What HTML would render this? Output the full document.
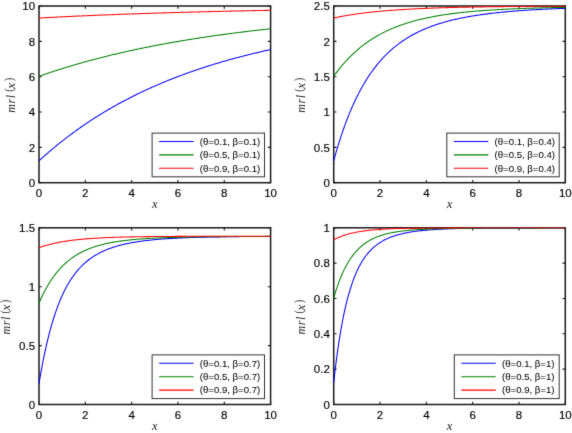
<!DOCTYPE html>
<html><head><meta charset="utf-8"><style>
html,body{margin:0;padding:0;background:#fff;}
body{width:572px;height:433px;overflow:hidden;}
svg{display:block;}
.tk{font-family:"Liberation Sans",sans-serif;font-size:11.5px;fill:#000;stroke:#000;stroke-width:0.15px;}
.lg{font-family:"Liberation Sans",sans-serif;font-size:9.6px;fill:#000;stroke:#000;stroke-width:0.05px;}
.ml{font-family:"Liberation Serif",serif;font-style:italic;font-size:12.0px;fill:#222;}
.mp{font-family:"Liberation Serif",serif;font-size:13.3px;fill:#222;}
.xl{font-family:"Liberation Serif",serif;font-style:italic;font-size:12.5px;fill:#222;}
</style></head><body>
<svg width="572" height="433" viewBox="0 0 572 433">
<defs><filter id="bl" x="0" y="0" width="572" height="433" filterUnits="userSpaceOnUse" color-interpolation-filters="sRGB"><feConvolveMatrix order="3" kernelMatrix="0.01000 0.08000 0.01000 0.08000 0.64000 0.08000 0.01000 0.08000 0.01000" divisor="1" edgeMode="duplicate"/></filter></defs>
<rect width="572" height="433" fill="#fff"/>
<g filter="url(#bl)">
<rect width="572" height="433" fill="#fff"/>
<path d="M39.00 182.70V179.90M39.00 6.00V8.80" stroke="#1a1a1a" stroke-width="1.1"/>
<text x="39.00" y="197.20" class="tk" text-anchor="middle">0</text>
<path d="M85.32 182.70V179.90M85.32 6.00V8.80" stroke="#1a1a1a" stroke-width="1.1"/>
<text x="85.32" y="197.20" class="tk" text-anchor="middle">2</text>
<path d="M131.64 182.70V179.90M131.64 6.00V8.80" stroke="#1a1a1a" stroke-width="1.1"/>
<text x="131.64" y="197.20" class="tk" text-anchor="middle">4</text>
<path d="M177.96 182.70V179.90M177.96 6.00V8.80" stroke="#1a1a1a" stroke-width="1.1"/>
<text x="177.96" y="197.20" class="tk" text-anchor="middle">6</text>
<path d="M224.28 182.70V179.90M224.28 6.00V8.80" stroke="#1a1a1a" stroke-width="1.1"/>
<text x="224.28" y="197.20" class="tk" text-anchor="middle">8</text>
<path d="M270.60 182.70V179.90M270.60 6.00V8.80" stroke="#1a1a1a" stroke-width="1.1"/>
<text x="270.60" y="197.20" class="tk" text-anchor="middle">10</text>
<path d="M39.00 182.70H41.80M270.60 182.70H267.80" stroke="#1a1a1a" stroke-width="1.1"/>
<text x="35.10" y="186.90" class="tk" text-anchor="end">0</text>
<path d="M39.00 147.36H41.80M270.60 147.36H267.80" stroke="#1a1a1a" stroke-width="1.1"/>
<text x="35.10" y="151.56" class="tk" text-anchor="end">2</text>
<path d="M39.00 112.02H41.80M270.60 112.02H267.80" stroke="#1a1a1a" stroke-width="1.1"/>
<text x="35.10" y="116.22" class="tk" text-anchor="end">4</text>
<path d="M39.00 76.68H41.80M270.60 76.68H267.80" stroke="#1a1a1a" stroke-width="1.1"/>
<text x="35.10" y="80.88" class="tk" text-anchor="end">6</text>
<path d="M39.00 41.34H41.80M270.60 41.34H267.80" stroke="#1a1a1a" stroke-width="1.1"/>
<text x="35.10" y="45.54" class="tk" text-anchor="end">8</text>
<path d="M39.00 6.00H41.80M270.60 6.00H267.80" stroke="#1a1a1a" stroke-width="1.1"/>
<text x="35.10" y="10.20" class="tk" text-anchor="end">10</text>
<rect x="39.00" y="6.00" width="231.60" height="176.70" fill="none" stroke="#1a1a1a" stroke-width="1.5"/>
<clipPath id="c0.1"><rect x="38.40" y="5.40" width="232.80" height="177.90"/></clipPath>
<g clip-path="url(#c0.1)">
<polyline points="39.00,160.79 39.97,159.91 40.93,159.03 41.90,158.16 42.86,157.30 43.83,156.44 44.79,155.58 45.76,154.74 46.72,153.89 47.69,153.05 48.65,152.22 49.62,151.39 50.58,150.57 51.55,149.76 52.51,148.94 53.48,148.14 54.44,147.33 55.41,146.54 56.37,145.75 57.34,144.96 58.30,144.18 59.27,143.40 60.23,142.63 61.20,141.86 62.16,141.10 63.12,140.34 64.09,139.59 65.06,138.84 66.02,138.10 66.98,137.36 67.95,136.62 68.92,135.89 69.88,135.17 70.84,134.45 71.81,133.73 72.78,133.02 73.74,132.31 74.71,131.61 75.67,130.91 76.64,130.21 77.60,129.52 78.56,128.84 79.53,128.16 80.50,127.48 81.46,126.80 82.43,126.14 83.39,125.47 84.36,124.81 85.32,124.15 86.28,123.50 87.25,122.85 88.22,122.21 89.18,121.57 90.15,120.93 91.11,120.30 92.08,119.67 93.04,119.04 94.01,118.42 94.97,117.80 95.94,117.19 96.90,116.58 97.87,115.98 98.83,115.37 99.80,114.77 100.76,114.18 101.72,113.59 102.69,113.00 103.66,112.42 104.62,111.84 105.59,111.26 106.55,110.68 107.52,110.11 108.48,109.55 109.45,108.98 110.41,108.43 111.38,107.87 112.34,107.32 113.31,106.77 114.27,106.22 115.24,105.68 116.20,105.14 117.17,104.60 118.13,104.07 119.09,103.54 120.06,103.01 121.03,102.49 121.99,101.97 122.96,101.45 123.92,100.94 124.89,100.43 125.85,99.92 126.82,99.41 127.78,98.91 128.75,98.41 129.71,97.92 130.68,97.43 131.64,96.94 132.61,96.45 133.57,95.97 134.54,95.49 135.50,95.01 136.47,94.53 137.43,94.06 138.39,93.59 139.36,93.12 140.33,92.66 141.29,92.20 142.25,91.74 143.22,91.29 144.19,90.83 145.15,90.38 146.12,89.94 147.08,89.49 148.05,89.05 149.01,88.61 149.98,88.17 150.94,87.74 151.91,87.31 152.87,86.88 153.84,86.45 154.80,86.03 155.76,85.61 156.73,85.19 157.70,84.77 158.66,84.36 159.62,83.94 160.59,83.54 161.56,83.13 162.52,82.73 163.49,82.32 164.45,81.92 165.42,81.53 166.38,81.13 167.34,80.74 168.31,80.35 169.28,79.96 170.24,79.58 171.21,79.19 172.17,78.81 173.14,78.43 174.10,78.06 175.07,77.68 176.03,77.31 177.00,76.94 177.96,76.57 178.93,76.21 179.89,75.84 180.86,75.48 181.82,75.12 182.79,74.77 183.75,74.41 184.72,74.06 185.68,73.71 186.65,73.36 187.61,73.01 188.58,72.67 189.54,72.32 190.51,71.98 191.47,71.64 192.44,71.31 193.40,70.97 194.37,70.64 195.33,70.31 196.30,69.98 197.26,69.65 198.23,69.33 199.19,69.00 200.16,68.68 201.12,68.36 202.09,68.05 203.05,67.73 204.02,67.42 204.98,67.10 205.95,66.79 206.91,66.48 207.88,66.18 208.84,65.87 209.81,65.57 210.77,65.27 211.74,64.97 212.70,64.67 213.67,64.37 214.63,64.08 215.60,63.78 216.56,63.49 217.53,63.20 218.49,62.92 219.46,62.63 220.42,62.34 221.39,62.06 222.35,61.78 223.32,61.50 224.28,61.22 225.25,60.94 226.21,60.67 227.18,60.40 228.14,60.12 229.10,59.85 230.07,59.58 231.04,59.32 232.00,59.05 232.97,58.79 233.93,58.52 234.90,58.26 235.86,58.00 236.83,57.74 237.79,57.49 238.76,57.23 239.72,56.98 240.69,56.72 241.65,56.47 242.62,56.22 243.58,55.98 244.55,55.73 245.51,55.48 246.47,55.24 247.44,55.00 248.41,54.75 249.37,54.51 250.34,54.27 251.30,54.04 252.27,53.80 253.23,53.57 254.20,53.33 255.16,53.10 256.12,52.87 257.09,52.64 258.06,52.41 259.02,52.18 259.99,51.96 260.95,51.73 261.92,51.51 262.88,51.29 263.85,51.07 264.81,50.85 265.78,50.63 266.74,50.41 267.71,50.20 268.67,49.98 269.63,49.77 270.60,49.56" fill="none" stroke="#0000ff" stroke-width="1.05" stroke-linejoin="round"/>
<polyline points="39.00,76.31 39.97,75.97 40.93,75.63 41.90,75.30 42.86,74.96 43.83,74.63 44.79,74.30 45.76,73.97 46.72,73.65 47.69,73.32 48.65,73.00 49.62,72.67 50.58,72.35 51.55,72.03 52.51,71.72 53.48,71.40 54.44,71.09 55.41,70.77 56.37,70.46 57.34,70.15 58.30,69.84 59.27,69.54 60.23,69.23 61.20,68.93 62.16,68.63 63.12,68.33 64.09,68.03 65.06,67.73 66.02,67.43 66.98,67.14 67.95,66.85 68.92,66.56 69.88,66.27 70.84,65.98 71.81,65.69 72.78,65.40 73.74,65.12 74.71,64.84 75.67,64.56 76.64,64.28 77.60,64.00 78.56,63.72 79.53,63.44 80.50,63.17 81.46,62.90 82.43,62.62 83.39,62.35 84.36,62.08 85.32,61.82 86.28,61.55 87.25,61.29 88.22,61.02 89.18,60.76 90.15,60.50 91.11,60.24 92.08,59.98 93.04,59.72 94.01,59.47 94.97,59.21 95.94,58.96 96.90,58.71 97.87,58.46 98.83,58.21 99.80,57.96 100.76,57.71 101.72,57.47 102.69,57.22 103.66,56.98 104.62,56.73 105.59,56.49 106.55,56.25 107.52,56.02 108.48,55.78 109.45,55.54 110.41,55.31 111.38,55.07 112.34,54.84 113.31,54.61 114.27,54.38 115.24,54.15 116.20,53.92 117.17,53.69 118.13,53.47 119.09,53.24 120.06,53.02 121.03,52.80 121.99,52.58 122.96,52.35 123.92,52.14 124.89,51.92 125.85,51.70 126.82,51.48 127.78,51.27 128.75,51.06 129.71,50.84 130.68,50.63 131.64,50.42 132.61,50.21 133.57,50.00 134.54,49.79 135.50,49.59 136.47,49.38 137.43,49.18 138.39,48.97 139.36,48.77 140.33,48.57 141.29,48.37 142.25,48.17 143.22,47.97 144.19,47.78 145.15,47.58 146.12,47.38 147.08,47.19 148.05,47.00 149.01,46.80 149.98,46.61 150.94,46.42 151.91,46.23 152.87,46.04 153.84,45.85 154.80,45.67 155.76,45.48 156.73,45.30 157.70,45.11 158.66,44.93 159.62,44.75 160.59,44.56 161.56,44.38 162.52,44.20 163.49,44.02 164.45,43.85 165.42,43.67 166.38,43.49 167.34,43.32 168.31,43.14 169.28,42.97 170.24,42.80 171.21,42.63 172.17,42.45 173.14,42.28 174.10,42.11 175.07,41.95 176.03,41.78 177.00,41.61 177.96,41.45 178.93,41.28 179.89,41.12 180.86,40.95 181.82,40.79 182.79,40.63 183.75,40.47 184.72,40.31 185.68,40.15 186.65,39.99 187.61,39.83 188.58,39.67 189.54,39.52 190.51,39.36 191.47,39.21 192.44,39.05 193.40,38.90 194.37,38.74 195.33,38.59 196.30,38.44 197.26,38.29 198.23,38.14 199.19,37.99 200.16,37.84 201.12,37.70 202.09,37.55 203.05,37.40 204.02,37.26 204.98,37.11 205.95,36.97 206.91,36.83 207.88,36.68 208.84,36.54 209.81,36.40 210.77,36.26 211.74,36.12 212.70,35.98 213.67,35.84 214.63,35.71 215.60,35.57 216.56,35.43 217.53,35.30 218.49,35.16 219.46,35.03 220.42,34.89 221.39,34.76 222.35,34.63 223.32,34.50 224.28,34.37 225.25,34.24 226.21,34.11 227.18,33.98 228.14,33.85 229.10,33.72 230.07,33.59 231.04,33.47 232.00,33.34 232.97,33.21 233.93,33.09 234.90,32.97 235.86,32.84 236.83,32.72 237.79,32.60 238.76,32.47 239.72,32.35 240.69,32.23 241.65,32.11 242.62,31.99 243.58,31.87 244.55,31.76 245.51,31.64 246.47,31.52 247.44,31.40 248.41,31.29 249.37,31.17 250.34,31.06 251.30,30.94 252.27,30.83 253.23,30.72 254.20,30.60 255.16,30.49 256.12,30.38 257.09,30.27 258.06,30.16 259.02,30.05 259.99,29.94 260.95,29.83 261.92,29.72 262.88,29.62 263.85,29.51 264.81,29.40 265.78,29.29 266.74,29.19 267.71,29.08 268.67,28.98 269.63,28.87 270.60,28.77" fill="none" stroke="#008000" stroke-width="1.05" stroke-linejoin="round"/>
<polyline points="39.00,18.02 39.97,17.97 40.93,17.91 41.90,17.86 42.86,17.81 43.83,17.76 44.79,17.71 45.76,17.66 46.72,17.61 47.69,17.56 48.65,17.51 49.62,17.46 50.58,17.41 51.55,17.36 52.51,17.31 53.48,17.26 54.44,17.21 55.41,17.16 56.37,17.11 57.34,17.06 58.30,17.02 59.27,16.97 60.23,16.92 61.20,16.87 62.16,16.83 63.12,16.78 64.09,16.73 65.06,16.69 66.02,16.64 66.98,16.59 67.95,16.55 68.92,16.50 69.88,16.46 70.84,16.41 71.81,16.37 72.78,16.32 73.74,16.28 74.71,16.23 75.67,16.19 76.64,16.14 77.60,16.10 78.56,16.06 79.53,16.01 80.50,15.97 81.46,15.93 82.43,15.88 83.39,15.84 84.36,15.80 85.32,15.76 86.28,15.71 87.25,15.67 88.22,15.63 89.18,15.59 90.15,15.55 91.11,15.51 92.08,15.47 93.04,15.42 94.01,15.38 94.97,15.34 95.94,15.30 96.90,15.26 97.87,15.22 98.83,15.18 99.80,15.14 100.76,15.10 101.72,15.07 102.69,15.03 103.66,14.99 104.62,14.95 105.59,14.91 106.55,14.87 107.52,14.83 108.48,14.80 109.45,14.76 110.41,14.72 111.38,14.68 112.34,14.65 113.31,14.61 114.27,14.57 115.24,14.53 116.20,14.50 117.17,14.46 118.13,14.43 119.09,14.39 120.06,14.35 121.03,14.32 121.99,14.28 122.96,14.25 123.92,14.21 124.89,14.18 125.85,14.14 126.82,14.11 127.78,14.07 128.75,14.04 129.71,14.00 130.68,13.97 131.64,13.93 132.61,13.90 133.57,13.87 134.54,13.83 135.50,13.80 136.47,13.76 137.43,13.73 138.39,13.70 139.36,13.67 140.33,13.63 141.29,13.60 142.25,13.57 143.22,13.53 144.19,13.50 145.15,13.47 146.12,13.44 147.08,13.41 148.05,13.37 149.01,13.34 149.98,13.31 150.94,13.28 151.91,13.25 152.87,13.22 153.84,13.19 154.80,13.16 155.76,13.13 156.73,13.10 157.70,13.07 158.66,13.04 159.62,13.01 160.59,12.98 161.56,12.95 162.52,12.92 163.49,12.89 164.45,12.86 165.42,12.83 166.38,12.80 167.34,12.77 168.31,12.74 169.28,12.71 170.24,12.68 171.21,12.65 172.17,12.63 173.14,12.60 174.10,12.57 175.07,12.54 176.03,12.51 177.00,12.49 177.96,12.46 178.93,12.43 179.89,12.40 180.86,12.38 181.82,12.35 182.79,12.32 183.75,12.30 184.72,12.27 185.68,12.24 186.65,12.22 187.61,12.19 188.58,12.16 189.54,12.14 190.51,12.11 191.47,12.08 192.44,12.06 193.40,12.03 194.37,12.01 195.33,11.98 196.30,11.96 197.26,11.93 198.23,11.91 199.19,11.88 200.16,11.86 201.12,11.83 202.09,11.81 203.05,11.78 204.02,11.76 204.98,11.73 205.95,11.71 206.91,11.68 207.88,11.66 208.84,11.64 209.81,11.61 210.77,11.59 211.74,11.56 212.70,11.54 213.67,11.52 214.63,11.49 215.60,11.47 216.56,11.45 217.53,11.42 218.49,11.40 219.46,11.38 220.42,11.35 221.39,11.33 222.35,11.31 223.32,11.29 224.28,11.26 225.25,11.24 226.21,11.22 227.18,11.20 228.14,11.18 229.10,11.15 230.07,11.13 231.04,11.11 232.00,11.09 232.97,11.07 233.93,11.05 234.90,11.02 235.86,11.00 236.83,10.98 237.79,10.96 238.76,10.94 239.72,10.92 240.69,10.90 241.65,10.88 242.62,10.86 243.58,10.84 244.55,10.82 245.51,10.79 246.47,10.77 247.44,10.75 248.41,10.73 249.37,10.71 250.34,10.69 251.30,10.67 252.27,10.65 253.23,10.63 254.20,10.62 255.16,10.60 256.12,10.58 257.09,10.56 258.06,10.54 259.02,10.52 259.99,10.50 260.95,10.48 261.92,10.46 262.88,10.44 263.85,10.42 264.81,10.40 265.78,10.39 266.74,10.37 267.71,10.35 268.67,10.33 269.63,10.31 270.60,10.29" fill="none" stroke="#ff0000" stroke-width="1.05" stroke-linejoin="round"/>
</g>
<text x="154.80" y="208.20" class="xl" text-anchor="middle">x</text>
<g transform="translate(14.60,94.95) rotate(-90)"><text class="ml"><tspan x="-17.75">m</tspan><tspan x="-8.55">r</tspan><tspan x="-3.25">l</tspan><tspan x="6.3" style="font-size:13.2px">x</tspan></text><text class="mp" transform="translate(3.15,-1.3) scale(0.72,1)">(</text><text class="mp" transform="translate(13.85,-1.3) scale(0.72,1)">)</text></g>
<rect x="152.10" y="133.10" width="112.40" height="43.70" fill="#fff" stroke="#333" stroke-width="1.0"/>
<line x1="159.10" y1="141.40" x2="193.60" y2="141.40" stroke="#0000ff" stroke-width="1.05"/>
<text x="199.80" y="144.70" class="lg">(θ=0.1, β=0.1)</text>
<line x1="159.10" y1="154.85" x2="193.60" y2="154.85" stroke="#008000" stroke-width="1.05"/>
<text x="199.80" y="158.15" class="lg">(θ=0.5, β=0.1)</text>
<line x1="159.10" y1="168.30" x2="193.60" y2="168.30" stroke="#ff0000" stroke-width="1.05"/>
<text x="199.80" y="171.60" class="lg">(θ=0.9, β=0.1)</text>
<path d="M333.70 182.70V179.90M333.70 6.00V8.80" stroke="#1a1a1a" stroke-width="1.1"/>
<text x="333.70" y="197.20" class="tk" text-anchor="middle">0</text>
<path d="M380.02 182.70V179.90M380.02 6.00V8.80" stroke="#1a1a1a" stroke-width="1.1"/>
<text x="380.02" y="197.20" class="tk" text-anchor="middle">2</text>
<path d="M426.34 182.70V179.90M426.34 6.00V8.80" stroke="#1a1a1a" stroke-width="1.1"/>
<text x="426.34" y="197.20" class="tk" text-anchor="middle">4</text>
<path d="M472.66 182.70V179.90M472.66 6.00V8.80" stroke="#1a1a1a" stroke-width="1.1"/>
<text x="472.66" y="197.20" class="tk" text-anchor="middle">6</text>
<path d="M518.98 182.70V179.90M518.98 6.00V8.80" stroke="#1a1a1a" stroke-width="1.1"/>
<text x="518.98" y="197.20" class="tk" text-anchor="middle">8</text>
<path d="M565.30 182.70V179.90M565.30 6.00V8.80" stroke="#1a1a1a" stroke-width="1.1"/>
<text x="565.30" y="197.20" class="tk" text-anchor="middle">10</text>
<path d="M333.70 182.70H336.50M565.30 182.70H562.50" stroke="#1a1a1a" stroke-width="1.1"/>
<text x="329.80" y="186.90" class="tk" text-anchor="end">0</text>
<path d="M333.70 147.36H336.50M565.30 147.36H562.50" stroke="#1a1a1a" stroke-width="1.1"/>
<text x="329.80" y="151.56" class="tk" text-anchor="end">0.5</text>
<path d="M333.70 112.02H336.50M565.30 112.02H562.50" stroke="#1a1a1a" stroke-width="1.1"/>
<text x="329.80" y="116.22" class="tk" text-anchor="end">1</text>
<path d="M333.70 76.68H336.50M565.30 76.68H562.50" stroke="#1a1a1a" stroke-width="1.1"/>
<text x="329.80" y="80.88" class="tk" text-anchor="end">1.5</text>
<path d="M333.70 41.34H336.50M565.30 41.34H562.50" stroke="#1a1a1a" stroke-width="1.1"/>
<text x="329.80" y="45.54" class="tk" text-anchor="end">2</text>
<path d="M333.70 6.00H336.50M565.30 6.00H562.50" stroke="#1a1a1a" stroke-width="1.1"/>
<text x="329.80" y="10.20" class="tk" text-anchor="end">2.5</text>
<rect x="333.70" y="6.00" width="231.60" height="176.70" fill="none" stroke="#1a1a1a" stroke-width="1.5"/>
<clipPath id="c0.4"><rect x="333.10" y="5.40" width="232.80" height="177.90"/></clipPath>
<g clip-path="url(#c0.4)">
<polyline points="333.70,160.79 334.66,157.30 335.63,153.89 336.59,150.57 337.56,147.33 338.52,144.18 339.49,141.10 340.45,138.10 341.42,135.17 342.38,132.31 343.35,129.52 344.31,126.80 345.28,124.15 346.25,121.57 347.21,119.04 348.18,116.58 349.14,114.18 350.10,111.84 351.07,109.55 352.03,107.32 353.00,105.14 353.96,103.01 354.93,100.94 355.89,98.91 356.86,96.94 357.82,95.01 358.79,93.12 359.75,91.29 360.72,89.49 361.69,87.74 362.65,86.03 363.62,84.36 364.58,82.73 365.54,81.13 366.51,79.58 367.47,78.06 368.44,76.57 369.40,75.12 370.37,73.71 371.33,72.32 372.30,70.97 373.26,69.65 374.23,68.36 375.19,67.10 376.16,65.87 377.12,64.67 378.09,63.49 379.05,62.34 380.02,61.22 380.98,60.12 381.95,59.05 382.91,58.00 383.88,56.98 384.84,55.98 385.81,55.00 386.77,54.04 387.74,53.10 388.70,52.18 389.67,51.29 390.63,50.41 391.60,49.56 392.56,48.72 393.53,47.90 394.50,47.10 395.46,46.31 396.42,45.55 397.39,44.80 398.35,44.06 399.32,43.34 400.28,42.64 401.25,41.95 402.21,41.28 403.18,40.62 404.14,39.98 405.11,39.34 406.07,38.73 407.04,38.12 408.00,37.53 408.97,36.95 409.93,36.38 410.90,35.83 411.87,35.28 412.83,34.75 413.79,34.23 414.76,33.72 415.72,33.22 416.69,32.73 417.65,32.25 418.62,31.78 419.58,31.32 420.55,30.86 421.51,30.42 422.48,29.99 423.44,29.56 424.41,29.15 425.38,28.74 426.34,28.34 427.30,27.95 428.27,27.57 429.23,27.19 430.20,26.82 431.16,26.46 432.13,26.11 433.09,25.76 434.06,25.42 435.02,25.08 435.99,24.76 436.95,24.43 437.92,24.12 438.88,23.81 439.85,23.51 440.81,23.21 441.78,22.92 442.74,22.63 443.71,22.35 444.67,22.08 445.64,21.81 446.60,21.54 447.57,21.28 448.53,21.03 449.50,20.78 450.46,20.53 451.43,20.29 452.39,20.05 453.36,19.82 454.32,19.59 455.29,19.37 456.25,19.15 457.22,18.94 458.18,18.72 459.15,18.52 460.11,18.31 461.08,18.11 462.04,17.92 463.01,17.72 463.97,17.53 464.94,17.35 465.90,17.17 466.87,16.99 467.83,16.81 468.80,16.64 469.76,16.47 470.73,16.30 471.69,16.13 472.66,15.97 473.62,15.81 474.59,15.66 475.55,15.51 476.52,15.36 477.48,15.21 478.45,15.06 479.41,14.92 480.38,14.78 481.34,14.64 482.31,14.51 483.27,14.37 484.24,14.24 485.20,14.12 486.17,13.99 487.13,13.86 488.10,13.74 489.06,13.62 490.03,13.50 490.99,13.39 491.96,13.27 492.92,13.16 493.89,13.05 494.85,12.94 495.82,12.84 496.78,12.73 497.75,12.63 498.71,12.53 499.68,12.43 500.64,12.33 501.61,12.23 502.57,12.14 503.54,12.05 504.50,11.95 505.47,11.86 506.43,11.78 507.40,11.69 508.36,11.60 509.33,11.52 510.29,11.43 511.26,11.35 512.22,11.27 513.19,11.19 514.15,11.12 515.12,11.04 516.08,10.96 517.05,10.89 518.01,10.82 518.98,10.74 519.94,10.67 520.91,10.60 521.88,10.54 522.84,10.47 523.80,10.40 524.77,10.34 525.73,10.27 526.70,10.21 527.66,10.15 528.63,10.08 529.59,10.02 530.56,9.97 531.52,9.91 532.49,9.85 533.45,9.79 534.42,9.74 535.38,9.68 536.35,9.63 537.31,9.57 538.28,9.52 539.24,9.47 540.21,9.42 541.17,9.37 542.14,9.32 543.10,9.27 544.07,9.22 545.03,9.18 546.00,9.13 546.96,9.09 547.93,9.04 548.89,9.00 549.86,8.95 550.82,8.91 551.79,8.87 552.75,8.83 553.72,8.79 554.68,8.74 555.65,8.70 556.62,8.67 557.58,8.63 558.54,8.59 559.51,8.55 560.47,8.52 561.44,8.48 562.40,8.44 563.37,8.41 564.33,8.37 565.30,8.34" fill="none" stroke="#0000ff" stroke-width="1.05" stroke-linejoin="round"/>
<polyline points="333.70,76.31 334.66,74.96 335.63,73.65 336.59,72.35 337.56,71.09 338.52,69.84 339.49,68.63 340.45,67.43 341.42,66.27 342.38,65.12 343.35,64.00 344.31,62.90 345.28,61.82 346.25,60.76 347.21,59.72 348.18,58.71 349.14,57.71 350.10,56.73 351.07,55.78 352.03,54.84 353.00,53.92 353.96,53.02 354.93,52.14 355.89,51.27 356.86,50.42 357.82,49.59 358.79,48.77 359.75,47.97 360.72,47.19 361.69,46.42 362.65,45.67 363.62,44.93 364.58,44.20 365.54,43.49 366.51,42.80 367.47,42.11 368.44,41.45 369.40,40.79 370.37,40.15 371.33,39.52 372.30,38.90 373.26,38.29 374.23,37.70 375.19,37.11 376.16,36.54 377.12,35.98 378.09,35.43 379.05,34.89 380.02,34.37 380.98,33.85 381.95,33.34 382.91,32.84 383.88,32.35 384.84,31.87 385.81,31.40 386.77,30.94 387.74,30.49 388.70,30.05 389.67,29.62 390.63,29.19 391.60,28.77 392.56,28.36 393.53,27.96 394.50,27.57 395.46,27.18 396.42,26.80 397.39,26.43 398.35,26.06 399.32,25.70 400.28,25.35 401.25,25.01 402.21,24.67 403.18,24.34 404.14,24.02 405.11,23.70 406.07,23.38 407.04,23.08 408.00,22.78 408.97,22.48 409.93,22.19 410.90,21.91 411.87,21.63 412.83,21.36 413.79,21.09 414.76,20.82 415.72,20.57 416.69,20.31 417.65,20.06 418.62,19.82 419.58,19.58 420.55,19.35 421.51,19.12 422.48,18.89 423.44,18.67 424.41,18.45 425.38,18.24 426.34,18.03 427.30,17.82 428.27,17.62 429.23,17.42 430.20,17.23 431.16,17.04 432.13,16.85 433.09,16.67 434.06,16.48 435.02,16.31 435.99,16.13 436.95,15.96 437.92,15.80 438.88,15.63 439.85,15.47 440.81,15.31 441.78,15.16 442.74,15.00 443.71,14.85 444.67,14.71 445.64,14.56 446.60,14.42 447.57,14.28 448.53,14.14 449.50,14.01 450.46,13.88 451.43,13.75 452.39,13.62 453.36,13.50 454.32,13.38 455.29,13.26 456.25,13.14 457.22,13.02 458.18,12.91 459.15,12.80 460.11,12.69 461.08,12.58 462.04,12.47 463.01,12.37 463.97,12.27 464.94,12.17 465.90,12.07 466.87,11.97 467.83,11.88 468.80,11.78 469.76,11.69 470.73,11.60 471.69,11.51 472.66,11.43 473.62,11.34 474.59,11.26 475.55,11.17 476.52,11.09 477.48,11.01 478.45,10.94 479.41,10.86 480.38,10.78 481.34,10.71 482.31,10.64 483.27,10.56 484.24,10.49 485.20,10.42 486.17,10.36 487.13,10.29 488.10,10.22 489.06,10.16 490.03,10.10 490.99,10.03 491.96,9.97 492.92,9.91 493.89,9.85 494.85,9.80 495.82,9.74 496.78,9.68 497.75,9.63 498.71,9.57 499.68,9.52 500.64,9.47 501.61,9.42 502.57,9.36 503.54,9.31 504.50,9.27 505.47,9.22 506.43,9.17 507.40,9.12 508.36,9.08 509.33,9.03 510.29,8.99 511.26,8.94 512.22,8.90 513.19,8.86 514.15,8.82 515.12,8.78 516.08,8.74 517.05,8.70 518.01,8.66 518.98,8.62 519.94,8.58 520.91,8.55 521.88,8.51 522.84,8.47 523.80,8.44 524.77,8.40 525.73,8.37 526.70,8.34 527.66,8.30 528.63,8.27 529.59,8.24 530.56,8.21 531.52,8.18 532.49,8.15 533.45,8.12 534.42,8.09 535.38,8.06 536.35,8.03 537.31,8.00 538.28,7.97 539.24,7.95 540.21,7.92 541.17,7.89 542.14,7.87 543.10,7.84 544.07,7.82 545.03,7.79 546.00,7.77 546.96,7.74 547.93,7.72 548.89,7.70 549.86,7.67 550.82,7.65 551.79,7.63 552.75,7.61 553.72,7.59 554.68,7.57 555.65,7.54 556.62,7.52 557.58,7.50 558.54,7.48 559.51,7.46 560.47,7.45 561.44,7.43 562.40,7.41 563.37,7.39 564.33,7.37 565.30,7.35" fill="none" stroke="#008000" stroke-width="1.05" stroke-linejoin="round"/>
<polyline points="333.70,18.02 334.66,17.81 335.63,17.61 336.59,17.41 337.56,17.21 338.52,17.02 339.49,16.83 340.45,16.64 341.42,16.46 342.38,16.28 343.35,16.10 344.31,15.93 345.28,15.76 346.25,15.59 347.21,15.42 348.18,15.26 349.14,15.10 350.10,14.95 351.07,14.80 352.03,14.65 353.00,14.50 353.96,14.35 354.93,14.21 355.89,14.07 356.86,13.93 357.82,13.80 358.79,13.67 359.75,13.53 360.72,13.41 361.69,13.28 362.65,13.16 363.62,13.04 364.58,12.92 365.54,12.80 366.51,12.68 367.47,12.57 368.44,12.46 369.40,12.35 370.37,12.24 371.33,12.14 372.30,12.03 373.26,11.93 374.23,11.83 375.19,11.73 376.16,11.64 377.12,11.54 378.09,11.45 379.05,11.35 380.02,11.26 380.98,11.18 381.95,11.09 382.91,11.00 383.88,10.92 384.84,10.84 385.81,10.75 386.77,10.67 387.74,10.60 388.70,10.52 389.67,10.44 390.63,10.37 391.60,10.29 392.56,10.22 393.53,10.15 394.50,10.08 395.46,10.01 396.42,9.95 397.39,9.88 398.35,9.81 399.32,9.75 400.28,9.69 401.25,9.63 402.21,9.57 403.18,9.51 404.14,9.45 405.11,9.39 406.07,9.33 407.04,9.28 408.00,9.22 408.97,9.17 409.93,9.11 410.90,9.06 411.87,9.01 412.83,8.96 413.79,8.91 414.76,8.86 415.72,8.82 416.69,8.77 417.65,8.72 418.62,8.68 419.58,8.63 420.55,8.59 421.51,8.54 422.48,8.50 423.44,8.46 424.41,8.42 425.38,8.38 426.34,8.34 427.30,8.30 428.27,8.26 429.23,8.22 430.20,8.19 431.16,8.15 432.13,8.12 433.09,8.08 434.06,8.05 435.02,8.01 435.99,7.98 436.95,7.94 437.92,7.91 438.88,7.88 439.85,7.85 440.81,7.82 441.78,7.79 442.74,7.76 443.71,7.73 444.67,7.70 445.64,7.67 446.60,7.64 447.57,7.62 448.53,7.59 449.50,7.56 450.46,7.54 451.43,7.51 452.39,7.49 453.36,7.46 454.32,7.44 455.29,7.41 456.25,7.39 457.22,7.37 458.18,7.34 459.15,7.32 460.11,7.30 461.08,7.28 462.04,7.26 463.01,7.24 463.97,7.22 464.94,7.20 465.90,7.18 466.87,7.16 467.83,7.14 468.80,7.12 469.76,7.10 470.73,7.08 471.69,7.06 472.66,7.05 473.62,7.03 474.59,7.01 475.55,6.99 476.52,6.98 477.48,6.96 478.45,6.95 479.41,6.93 480.38,6.92 481.34,6.90 482.31,6.88 483.27,6.87 484.24,6.86 485.20,6.84 486.17,6.83 487.13,6.81 488.10,6.80 489.06,6.79 490.03,6.77 490.99,6.76 491.96,6.75 492.92,6.74 493.89,6.72 494.85,6.71 495.82,6.70 496.78,6.69 497.75,6.68 498.71,6.67 499.68,6.66 500.64,6.64 501.61,6.63 502.57,6.62 503.54,6.61 504.50,6.60 505.47,6.59 506.43,6.58 507.40,6.57 508.36,6.56 509.33,6.55 510.29,6.55 511.26,6.54 512.22,6.53 513.19,6.52 514.15,6.51 515.12,6.50 516.08,6.49 517.05,6.48 518.01,6.48 518.98,6.47 519.94,6.46 520.91,6.45 521.88,6.45 522.84,6.44 523.80,6.43 524.77,6.42 525.73,6.42 526.70,6.41 527.66,6.40 528.63,6.40 529.59,6.39 530.56,6.38 531.52,6.38 532.49,6.37 533.45,6.37 534.42,6.36 535.38,6.35 536.35,6.35 537.31,6.34 538.28,6.34 539.24,6.33 540.21,6.32 541.17,6.32 542.14,6.31 543.10,6.31 544.07,6.30 545.03,6.30 546.00,6.29 546.96,6.29 547.93,6.28 548.89,6.28 549.86,6.27 550.82,6.27 551.79,6.27 552.75,6.26 553.72,6.26 554.68,6.25 555.65,6.25 556.62,6.24 557.58,6.24 558.54,6.24 559.51,6.23 560.47,6.23 561.44,6.23 562.40,6.22 563.37,6.22 564.33,6.21 565.30,6.21" fill="none" stroke="#ff0000" stroke-width="1.05" stroke-linejoin="round"/>
</g>
<text x="449.50" y="208.20" class="xl" text-anchor="middle">x</text>
<g transform="translate(304.50,94.95) rotate(-90)"><text class="ml"><tspan x="-17.75">m</tspan><tspan x="-8.55">r</tspan><tspan x="-3.25">l</tspan><tspan x="6.3" style="font-size:13.2px">x</tspan></text><text class="mp" transform="translate(3.15,-1.3) scale(0.72,1)">(</text><text class="mp" transform="translate(13.85,-1.3) scale(0.72,1)">)</text></g>
<rect x="446.80" y="133.10" width="112.40" height="43.70" fill="#fff" stroke="#333" stroke-width="1.0"/>
<line x1="453.80" y1="141.40" x2="488.30" y2="141.40" stroke="#0000ff" stroke-width="1.05"/>
<text x="494.50" y="144.70" class="lg">(θ=0.1, β=0.4)</text>
<line x1="453.80" y1="154.85" x2="488.30" y2="154.85" stroke="#008000" stroke-width="1.05"/>
<text x="494.50" y="158.15" class="lg">(θ=0.5, β=0.4)</text>
<line x1="453.80" y1="168.30" x2="488.30" y2="168.30" stroke="#ff0000" stroke-width="1.05"/>
<text x="494.50" y="171.60" class="lg">(θ=0.9, β=0.4)</text>
<path d="M39.00 404.50V401.70M39.00 227.80V230.60" stroke="#1a1a1a" stroke-width="1.1"/>
<text x="39.00" y="419.00" class="tk" text-anchor="middle">0</text>
<path d="M85.32 404.50V401.70M85.32 227.80V230.60" stroke="#1a1a1a" stroke-width="1.1"/>
<text x="85.32" y="419.00" class="tk" text-anchor="middle">2</text>
<path d="M131.64 404.50V401.70M131.64 227.80V230.60" stroke="#1a1a1a" stroke-width="1.1"/>
<text x="131.64" y="419.00" class="tk" text-anchor="middle">4</text>
<path d="M177.96 404.50V401.70M177.96 227.80V230.60" stroke="#1a1a1a" stroke-width="1.1"/>
<text x="177.96" y="419.00" class="tk" text-anchor="middle">6</text>
<path d="M224.28 404.50V401.70M224.28 227.80V230.60" stroke="#1a1a1a" stroke-width="1.1"/>
<text x="224.28" y="419.00" class="tk" text-anchor="middle">8</text>
<path d="M270.60 404.50V401.70M270.60 227.80V230.60" stroke="#1a1a1a" stroke-width="1.1"/>
<text x="270.60" y="419.00" class="tk" text-anchor="middle">10</text>
<path d="M39.00 404.50H41.80M270.60 404.50H267.80" stroke="#1a1a1a" stroke-width="1.1"/>
<text x="35.10" y="408.70" class="tk" text-anchor="end">0</text>
<path d="M39.00 345.60H41.80M270.60 345.60H267.80" stroke="#1a1a1a" stroke-width="1.1"/>
<text x="35.10" y="349.80" class="tk" text-anchor="end">0.5</text>
<path d="M39.00 286.70H41.80M270.60 286.70H267.80" stroke="#1a1a1a" stroke-width="1.1"/>
<text x="35.10" y="290.90" class="tk" text-anchor="end">1</text>
<path d="M39.00 227.80H41.80M270.60 227.80H267.80" stroke="#1a1a1a" stroke-width="1.1"/>
<text x="35.10" y="232.00" class="tk" text-anchor="end">1.5</text>
<rect x="39.00" y="227.80" width="231.60" height="176.70" fill="none" stroke="#1a1a1a" stroke-width="1.5"/>
<clipPath id="c0.7"><rect x="38.40" y="227.20" width="232.80" height="177.90"/></clipPath>
<g clip-path="url(#c0.7)">
<polyline points="39.00,383.63 39.97,377.87 40.93,372.35 41.90,367.07 42.86,362.02 43.83,357.18 44.79,352.55 45.76,348.12 46.72,343.87 47.69,339.81 48.65,335.91 49.62,332.18 50.58,328.61 51.55,325.18 52.51,321.90 53.48,318.75 54.44,315.73 55.41,312.83 56.37,310.06 57.34,307.39 58.30,304.84 59.27,302.39 60.23,300.03 61.20,297.78 62.16,295.61 63.12,293.53 64.09,291.53 65.06,289.61 66.02,287.76 66.98,285.99 67.95,284.28 68.92,282.65 69.88,281.07 70.84,279.56 71.81,278.10 72.78,276.70 73.74,275.36 74.71,274.06 75.67,272.81 76.64,271.61 77.60,270.45 78.56,269.34 79.53,268.27 80.50,267.24 81.46,266.24 82.43,265.28 83.39,264.36 84.36,263.47 85.32,262.61 86.28,261.78 87.25,260.99 88.22,260.22 89.18,259.47 90.15,258.76 91.11,258.07 92.08,257.40 93.04,256.75 94.01,256.13 94.97,255.53 95.94,254.95 96.90,254.39 97.87,253.85 98.83,253.32 99.80,252.82 100.76,252.33 101.72,251.85 102.69,251.40 103.66,250.95 104.62,250.53 105.59,250.11 106.55,249.71 107.52,249.32 108.48,248.95 109.45,248.59 110.41,248.23 111.38,247.89 112.34,247.56 113.31,247.24 114.27,246.93 115.24,246.63 116.20,246.34 117.17,246.06 118.13,245.79 119.09,245.52 120.06,245.27 121.03,245.02 121.99,244.78 122.96,244.54 123.92,244.32 124.89,244.10 125.85,243.88 126.82,243.68 127.78,243.47 128.75,243.28 129.71,243.09 130.68,242.91 131.64,242.73 132.61,242.55 133.57,242.38 134.54,242.22 135.50,242.06 136.47,241.91 137.43,241.76 138.39,241.61 139.36,241.47 140.33,241.33 141.29,241.20 142.25,241.07 143.22,240.94 144.19,240.82 145.15,240.70 146.12,240.58 147.08,240.47 148.05,240.36 149.01,240.25 149.98,240.15 150.94,240.05 151.91,239.95 152.87,239.85 153.84,239.76 154.80,239.67 155.76,239.58 156.73,239.50 157.70,239.41 158.66,239.33 159.62,239.25 160.59,239.17 161.56,239.10 162.52,239.03 163.49,238.96 164.45,238.89 165.42,238.82 166.38,238.75 167.34,238.69 168.31,238.63 169.28,238.57 170.24,238.51 171.21,238.45 172.17,238.39 173.14,238.34 174.10,238.29 175.07,238.23 176.03,238.18 177.00,238.14 177.96,238.09 178.93,238.04 179.89,238.00 180.86,237.95 181.82,237.91 182.79,237.87 183.75,237.82 184.72,237.79 185.68,237.75 186.65,237.71 187.61,237.67 188.58,237.64 189.54,237.60 190.51,237.57 191.47,237.53 192.44,237.50 193.40,237.47 194.37,237.44 195.33,237.41 196.30,237.38 197.26,237.35 198.23,237.32 199.19,237.29 200.16,237.27 201.12,237.24 202.09,237.22 203.05,237.19 204.02,237.17 204.98,237.14 205.95,237.12 206.91,237.10 207.88,237.08 208.84,237.06 209.81,237.04 210.77,237.02 211.74,237.00 212.70,236.98 213.67,236.96 214.63,236.94 215.60,236.92 216.56,236.91 217.53,236.89 218.49,236.87 219.46,236.86 220.42,236.84 221.39,236.83 222.35,236.81 223.32,236.80 224.28,236.78 225.25,236.77 226.21,236.75 227.18,236.74 228.14,236.73 229.10,236.72 230.07,236.70 231.04,236.69 232.00,236.68 232.97,236.67 233.93,236.66 234.90,236.65 235.86,236.64 236.83,236.63 237.79,236.62 238.76,236.61 239.72,236.60 240.69,236.59 241.65,236.58 242.62,236.57 243.58,236.56 244.55,236.55 245.51,236.54 246.47,236.54 247.44,236.53 248.41,236.52 249.37,236.51 250.34,236.51 251.30,236.50 252.27,236.49 253.23,236.49 254.20,236.48 255.16,236.47 256.12,236.47 257.09,236.46 258.06,236.45 259.02,236.45 259.99,236.44 260.95,236.44 261.92,236.43 262.88,236.43 263.85,236.42 264.81,236.42 265.78,236.41 266.74,236.41 267.71,236.40 268.67,236.40 269.63,236.39 270.60,236.39" fill="none" stroke="#0000ff" stroke-width="1.05" stroke-linejoin="round"/>
<polyline points="39.00,303.18 39.97,300.95 40.93,298.80 41.90,296.73 42.86,294.72 43.83,292.79 44.79,290.92 45.76,289.12 46.72,287.38 47.69,285.70 48.65,284.08 49.62,282.51 50.58,280.99 51.55,279.53 52.51,278.12 53.48,276.76 54.44,275.44 55.41,274.17 56.37,272.94 57.34,271.76 58.30,270.61 59.27,269.50 60.23,268.43 61.20,267.40 62.16,266.40 63.12,265.44 64.09,264.51 65.06,263.61 66.02,262.74 66.98,261.90 67.95,261.08 68.92,260.30 69.88,259.54 70.84,258.81 71.81,258.10 72.78,257.41 73.74,256.75 74.71,256.11 75.67,255.49 76.64,254.90 77.60,254.32 78.56,253.76 79.53,253.22 80.50,252.70 81.46,252.19 82.43,251.70 83.39,251.23 84.36,250.77 85.32,250.33 86.28,249.91 87.25,249.49 88.22,249.09 89.18,248.71 90.15,248.33 91.11,247.97 92.08,247.62 93.04,247.28 94.01,246.95 94.97,246.64 95.94,246.33 96.90,246.03 97.87,245.74 98.83,245.46 99.80,245.20 100.76,244.93 101.72,244.68 102.69,244.44 103.66,244.20 104.62,243.97 105.59,243.75 106.55,243.53 107.52,243.33 108.48,243.12 109.45,242.93 110.41,242.74 111.38,242.56 112.34,242.38 113.31,242.21 114.27,242.04 115.24,241.88 116.20,241.72 117.17,241.57 118.13,241.42 119.09,241.28 120.06,241.14 121.03,241.01 121.99,240.88 122.96,240.75 123.92,240.63 124.89,240.51 125.85,240.40 126.82,240.28 127.78,240.18 128.75,240.07 129.71,239.97 130.68,239.87 131.64,239.77 132.61,239.68 133.57,239.59 134.54,239.50 135.50,239.42 136.47,239.34 137.43,239.26 138.39,239.18 139.36,239.10 140.33,239.03 141.29,238.96 142.25,238.89 143.22,238.82 144.19,238.76 145.15,238.69 146.12,238.63 147.08,238.57 148.05,238.51 149.01,238.46 149.98,238.40 150.94,238.35 151.91,238.30 152.87,238.24 153.84,238.20 154.80,238.15 155.76,238.10 156.73,238.06 157.70,238.01 158.66,237.97 159.62,237.93 160.59,237.89 161.56,237.85 162.52,237.81 163.49,237.77 164.45,237.74 165.42,237.70 166.38,237.67 167.34,237.63 168.31,237.60 169.28,237.57 170.24,237.54 171.21,237.51 172.17,237.48 173.14,237.45 174.10,237.42 175.07,237.39 176.03,237.37 177.00,237.34 177.96,237.32 178.93,237.29 179.89,237.27 180.86,237.24 181.82,237.22 182.79,237.20 183.75,237.18 184.72,237.16 185.68,237.14 186.65,237.12 187.61,237.10 188.58,237.08 189.54,237.06 190.51,237.04 191.47,237.02 192.44,237.01 193.40,236.99 194.37,236.97 195.33,236.96 196.30,236.94 197.26,236.93 198.23,236.91 199.19,236.90 200.16,236.88 201.12,236.87 202.09,236.86 203.05,236.84 204.02,236.83 204.98,236.82 205.95,236.80 206.91,236.79 207.88,236.78 208.84,236.77 209.81,236.76 210.77,236.75 211.74,236.74 212.70,236.72 213.67,236.71 214.63,236.70 215.60,236.69 216.56,236.69 217.53,236.68 218.49,236.67 219.46,236.66 220.42,236.65 221.39,236.64 222.35,236.63 223.32,236.62 224.28,236.62 225.25,236.61 226.21,236.60 227.18,236.59 228.14,236.58 229.10,236.58 230.07,236.57 231.04,236.56 232.00,236.56 232.97,236.55 233.93,236.54 234.90,236.54 235.86,236.53 236.83,236.52 237.79,236.52 238.76,236.51 239.72,236.51 240.69,236.50 241.65,236.50 242.62,236.49 243.58,236.49 244.55,236.48 245.51,236.48 246.47,236.47 247.44,236.47 248.41,236.46 249.37,236.46 250.34,236.45 251.30,236.45 252.27,236.44 253.23,236.44 254.20,236.43 255.16,236.43 256.12,236.43 257.09,236.42 258.06,236.42 259.02,236.41 259.99,236.41 260.95,236.41 261.92,236.40 262.88,236.40 263.85,236.40 264.81,236.39 265.78,236.39 266.74,236.39 267.71,236.38 268.67,236.38 269.63,236.38 270.60,236.37" fill="none" stroke="#008000" stroke-width="1.05" stroke-linejoin="round"/>
<polyline points="39.00,247.66 39.97,247.32 40.93,246.98 41.90,246.66 42.86,246.35 43.83,246.04 44.79,245.75 45.76,245.47 46.72,245.19 47.69,244.92 48.65,244.66 49.62,244.41 50.58,244.17 51.55,243.93 52.51,243.70 53.48,243.48 54.44,243.27 55.41,243.06 56.37,242.86 57.34,242.66 58.30,242.47 59.27,242.29 60.23,242.11 61.20,241.94 62.16,241.77 63.12,241.60 64.09,241.45 65.06,241.29 66.02,241.14 66.98,241.00 67.95,240.86 68.92,240.72 69.88,240.59 70.84,240.46 71.81,240.34 72.78,240.22 73.74,240.10 74.71,239.99 75.67,239.88 76.64,239.77 77.60,239.67 78.56,239.57 79.53,239.47 80.50,239.37 81.46,239.28 82.43,239.19 83.39,239.11 84.36,239.02 85.32,238.94 86.28,238.86 87.25,238.78 88.22,238.71 89.18,238.64 90.15,238.57 91.11,238.50 92.08,238.43 93.04,238.37 94.01,238.31 94.97,238.25 95.94,238.19 96.90,238.13 97.87,238.07 98.83,238.02 99.80,237.97 100.76,237.92 101.72,237.87 102.69,237.82 103.66,237.77 104.62,237.73 105.59,237.68 106.55,237.64 107.52,237.60 108.48,237.56 109.45,237.52 110.41,237.48 111.38,237.45 112.34,237.41 113.31,237.38 114.27,237.34 115.24,237.31 116.20,237.28 117.17,237.25 118.13,237.22 119.09,237.19 120.06,237.16 121.03,237.13 121.99,237.11 122.96,237.08 123.92,237.06 124.89,237.03 125.85,237.01 126.82,236.99 127.78,236.96 128.75,236.94 129.71,236.92 130.68,236.90 131.64,236.88 132.61,236.86 133.57,236.84 134.54,236.83 135.50,236.81 136.47,236.79 137.43,236.77 138.39,236.76 139.36,236.74 140.33,236.73 141.29,236.71 142.25,236.70 143.22,236.68 144.19,236.67 145.15,236.66 146.12,236.64 147.08,236.63 148.05,236.62 149.01,236.61 149.98,236.60 150.94,236.59 151.91,236.58 152.87,236.56 153.84,236.55 154.80,236.55 155.76,236.54 156.73,236.53 157.70,236.52 158.66,236.51 159.62,236.50 160.59,236.49 161.56,236.48 162.52,236.48 163.49,236.47 164.45,236.46 165.42,236.45 166.38,236.45 167.34,236.44 168.31,236.43 169.28,236.43 170.24,236.42 171.21,236.42 172.17,236.41 173.14,236.40 174.10,236.40 175.07,236.39 176.03,236.39 177.00,236.38 177.96,236.38 178.93,236.37 179.89,236.37 180.86,236.36 181.82,236.36 182.79,236.36 183.75,236.35 184.72,236.35 185.68,236.34 186.65,236.34 187.61,236.34 188.58,236.33 189.54,236.33 190.51,236.33 191.47,236.32 192.44,236.32 193.40,236.32 194.37,236.31 195.33,236.31 196.30,236.31 197.26,236.31 198.23,236.30 199.19,236.30 200.16,236.30 201.12,236.30 202.09,236.29 203.05,236.29 204.02,236.29 204.98,236.29 205.95,236.28 206.91,236.28 207.88,236.28 208.84,236.28 209.81,236.28 210.77,236.28 211.74,236.27 212.70,236.27 213.67,236.27 214.63,236.27 215.60,236.27 216.56,236.27 217.53,236.26 218.49,236.26 219.46,236.26 220.42,236.26 221.39,236.26 222.35,236.26 223.32,236.26 224.28,236.25 225.25,236.25 226.21,236.25 227.18,236.25 228.14,236.25 229.10,236.25 230.07,236.25 231.04,236.25 232.00,236.25 232.97,236.25 233.93,236.24 234.90,236.24 235.86,236.24 236.83,236.24 237.79,236.24 238.76,236.24 239.72,236.24 240.69,236.24 241.65,236.24 242.62,236.24 243.58,236.24 244.55,236.24 245.51,236.24 246.47,236.23 247.44,236.23 248.41,236.23 249.37,236.23 250.34,236.23 251.30,236.23 252.27,236.23 253.23,236.23 254.20,236.23 255.16,236.23 256.12,236.23 257.09,236.23 258.06,236.23 259.02,236.23 259.99,236.23 260.95,236.23 261.92,236.23 262.88,236.23 263.85,236.23 264.81,236.23 265.78,236.23 266.74,236.23 267.71,236.23 268.67,236.22 269.63,236.22 270.60,236.22" fill="none" stroke="#ff0000" stroke-width="1.05" stroke-linejoin="round"/>
</g>
<text x="154.80" y="430.00" class="xl" text-anchor="middle">x</text>
<g transform="translate(10.20,316.75) rotate(-90)"><text class="ml"><tspan x="-17.75">m</tspan><tspan x="-8.55">r</tspan><tspan x="-3.25">l</tspan><tspan x="6.3" style="font-size:13.2px">x</tspan></text><text class="mp" transform="translate(3.15,-1.3) scale(0.72,1)">(</text><text class="mp" transform="translate(13.85,-1.3) scale(0.72,1)">)</text></g>
<rect x="152.10" y="354.90" width="112.40" height="43.70" fill="#fff" stroke="#333" stroke-width="1.0"/>
<line x1="159.10" y1="363.20" x2="193.60" y2="363.20" stroke="#0000ff" stroke-width="1.05"/>
<text x="199.80" y="366.50" class="lg">(θ=0.1, β=0.7)</text>
<line x1="159.10" y1="376.65" x2="193.60" y2="376.65" stroke="#008000" stroke-width="1.05"/>
<text x="199.80" y="379.95" class="lg">(θ=0.5, β=0.7)</text>
<line x1="159.10" y1="390.10" x2="193.60" y2="390.10" stroke="#ff0000" stroke-width="1.05"/>
<text x="199.80" y="393.40" class="lg">(θ=0.9, β=0.7)</text>
<path d="M333.70 404.50V401.70M333.70 227.80V230.60" stroke="#1a1a1a" stroke-width="1.1"/>
<text x="333.70" y="419.00" class="tk" text-anchor="middle">0</text>
<path d="M380.02 404.50V401.70M380.02 227.80V230.60" stroke="#1a1a1a" stroke-width="1.1"/>
<text x="380.02" y="419.00" class="tk" text-anchor="middle">2</text>
<path d="M426.34 404.50V401.70M426.34 227.80V230.60" stroke="#1a1a1a" stroke-width="1.1"/>
<text x="426.34" y="419.00" class="tk" text-anchor="middle">4</text>
<path d="M472.66 404.50V401.70M472.66 227.80V230.60" stroke="#1a1a1a" stroke-width="1.1"/>
<text x="472.66" y="419.00" class="tk" text-anchor="middle">6</text>
<path d="M518.98 404.50V401.70M518.98 227.80V230.60" stroke="#1a1a1a" stroke-width="1.1"/>
<text x="518.98" y="419.00" class="tk" text-anchor="middle">8</text>
<path d="M565.30 404.50V401.70M565.30 227.80V230.60" stroke="#1a1a1a" stroke-width="1.1"/>
<text x="565.30" y="419.00" class="tk" text-anchor="middle">10</text>
<path d="M333.70 404.50H336.50M565.30 404.50H562.50" stroke="#1a1a1a" stroke-width="1.1"/>
<text x="329.80" y="408.70" class="tk" text-anchor="end">0</text>
<path d="M333.70 369.16H336.50M565.30 369.16H562.50" stroke="#1a1a1a" stroke-width="1.1"/>
<text x="329.80" y="373.36" class="tk" text-anchor="end">0.2</text>
<path d="M333.70 333.82H336.50M565.30 333.82H562.50" stroke="#1a1a1a" stroke-width="1.1"/>
<text x="329.80" y="338.02" class="tk" text-anchor="end">0.4</text>
<path d="M333.70 298.48H336.50M565.30 298.48H562.50" stroke="#1a1a1a" stroke-width="1.1"/>
<text x="329.80" y="302.68" class="tk" text-anchor="end">0.6</text>
<path d="M333.70 263.14H336.50M565.30 263.14H562.50" stroke="#1a1a1a" stroke-width="1.1"/>
<text x="329.80" y="267.34" class="tk" text-anchor="end">0.8</text>
<path d="M333.70 227.80H336.50M565.30 227.80H562.50" stroke="#1a1a1a" stroke-width="1.1"/>
<text x="329.80" y="232.00" class="tk" text-anchor="end">1</text>
<rect x="333.70" y="227.80" width="231.60" height="176.70" fill="none" stroke="#1a1a1a" stroke-width="1.5"/>
<clipPath id="c1.0"><rect x="333.10" y="227.20" width="232.80" height="177.90"/></clipPath>
<g clip-path="url(#c1.0)">
<polyline points="333.70,382.59 334.66,374.02 335.63,365.98 336.59,358.42 337.56,351.32 338.52,344.65 339.49,338.38 340.45,332.48 341.42,326.94 342.38,321.72 343.35,316.81 344.31,312.18 345.28,307.83 346.25,303.72 347.21,299.86 348.18,296.21 349.14,292.77 350.10,289.53 351.07,286.47 352.03,283.58 353.00,280.85 353.96,278.27 354.93,275.84 355.89,273.53 356.86,271.36 357.82,269.30 358.79,267.35 359.75,265.50 360.72,263.75 361.69,262.10 362.65,260.53 363.62,259.04 364.58,257.63 365.54,256.29 366.51,255.02 367.47,253.81 368.44,252.66 369.40,251.58 370.37,250.54 371.33,249.56 372.30,248.62 373.26,247.73 374.23,246.88 375.19,246.08 376.16,245.31 377.12,244.58 378.09,243.88 379.05,243.21 380.02,242.58 380.98,241.97 381.95,241.39 382.91,240.84 383.88,240.32 384.84,239.81 385.81,239.33 386.77,238.87 387.74,238.44 388.70,238.02 389.67,237.61 390.63,237.23 391.60,236.86 392.56,236.51 393.53,236.17 394.50,235.85 395.46,235.54 396.42,235.25 397.39,234.96 398.35,234.69 399.32,234.43 400.28,234.18 401.25,233.94 402.21,233.71 403.18,233.49 404.14,233.28 405.11,233.07 406.07,232.88 407.04,232.69 408.00,232.51 408.97,232.34 409.93,232.17 410.90,232.01 411.87,231.85 412.83,231.71 413.79,231.56 414.76,231.43 415.72,231.30 416.69,231.17 417.65,231.05 418.62,230.93 419.58,230.82 420.55,230.71 421.51,230.61 422.48,230.50 423.44,230.41 424.41,230.32 425.38,230.23 426.34,230.14 427.30,230.06 428.27,229.98 429.23,229.90 430.20,229.82 431.16,229.75 432.13,229.68 433.09,229.62 434.06,229.55 435.02,229.49 435.99,229.43 436.95,229.37 437.92,229.32 438.88,229.27 439.85,229.21 440.81,229.16 441.78,229.12 442.74,229.07 443.71,229.03 444.67,228.98 445.64,228.94 446.60,228.90 447.57,228.86 448.53,228.83 449.50,228.79 450.46,228.76 451.43,228.72 452.39,228.69 453.36,228.66 454.32,228.63 455.29,228.60 456.25,228.57 457.22,228.55 458.18,228.52 459.15,228.50 460.11,228.47 461.08,228.45 462.04,228.43 463.01,228.40 463.97,228.38 464.94,228.36 465.90,228.34 466.87,228.33 467.83,228.31 468.80,228.29 469.76,228.27 470.73,228.26 471.69,228.24 472.66,228.23 473.62,228.21 474.59,228.20 475.55,228.18 476.52,228.17 477.48,228.16 478.45,228.14 479.41,228.13 480.38,228.12 481.34,228.11 482.31,228.10 483.27,228.09 484.24,228.08 485.20,228.07 486.17,228.06 487.13,228.05 488.10,228.04 489.06,228.03 490.03,228.03 490.99,228.02 491.96,228.01 492.92,228.00 493.89,228.00 494.85,227.99 495.82,227.98 496.78,227.98 497.75,227.97 498.71,227.97 499.68,227.96 500.64,227.95 501.61,227.95 502.57,227.94 503.54,227.94 504.50,227.93 505.47,227.93 506.43,227.92 507.40,227.92 508.36,227.92 509.33,227.91 510.29,227.91 511.26,227.90 512.22,227.90 513.19,227.90 514.15,227.89 515.12,227.89 516.08,227.89 517.05,227.89 518.01,227.88 518.98,227.88 519.94,227.88 520.91,227.87 521.88,227.87 522.84,227.87 523.80,227.87 524.77,227.86 525.73,227.86 526.70,227.86 527.66,227.86 528.63,227.86 529.59,227.85 530.56,227.85 531.52,227.85 532.49,227.85 533.45,227.85 534.42,227.85 535.38,227.84 536.35,227.84 537.31,227.84 538.28,227.84 539.24,227.84 540.21,227.84 541.17,227.84 542.14,227.83 543.10,227.83 544.07,227.83 545.03,227.83 546.00,227.83 546.96,227.83 547.93,227.83 548.89,227.83 549.86,227.83 550.82,227.83 551.79,227.82 552.75,227.82 553.72,227.82 554.68,227.82 555.65,227.82 556.62,227.82 557.58,227.82 558.54,227.82 559.51,227.82 560.47,227.82 561.44,227.82 562.40,227.82 563.37,227.82 564.33,227.82 565.30,227.81" fill="none" stroke="#0000ff" stroke-width="1.05" stroke-linejoin="round"/>
<polyline points="333.70,298.11 334.66,294.80 335.63,291.64 336.59,288.65 337.56,285.80 338.52,283.09 339.49,280.51 340.45,278.05 341.42,275.72 342.38,273.50 343.35,271.39 344.31,269.38 345.28,267.47 346.25,265.65 347.21,263.91 348.18,262.27 349.14,260.70 350.10,259.20 351.07,257.78 352.03,256.43 353.00,255.14 353.96,253.91 354.93,252.74 355.89,251.63 356.86,250.57 357.82,249.56 358.79,248.60 359.75,247.68 360.72,246.81 361.69,245.98 362.65,245.18 363.62,244.43 364.58,243.71 365.54,243.02 366.51,242.37 367.47,241.74 368.44,241.15 369.40,240.58 370.37,240.04 371.33,239.52 372.30,239.03 373.26,238.56 374.23,238.11 375.19,237.68 376.16,237.27 377.12,236.88 378.09,236.51 379.05,236.15 380.02,235.81 380.98,235.49 381.95,235.18 382.91,234.88 383.88,234.60 384.84,234.33 385.81,234.07 386.77,233.82 387.74,233.58 388.70,233.36 389.67,233.14 390.63,232.93 391.60,232.74 392.56,232.55 393.53,232.36 394.50,232.19 395.46,232.02 396.42,231.87 397.39,231.71 398.35,231.57 399.32,231.43 400.28,231.29 401.25,231.16 402.21,231.04 403.18,230.92 404.14,230.81 405.11,230.70 406.07,230.60 407.04,230.50 408.00,230.40 408.97,230.31 409.93,230.22 410.90,230.14 411.87,230.06 412.83,229.98 413.79,229.90 414.76,229.83 415.72,229.76 416.69,229.69 417.65,229.63 418.62,229.57 419.58,229.51 420.55,229.45 421.51,229.40 422.48,229.34 423.44,229.29 424.41,229.25 425.38,229.20 426.34,229.15 427.30,229.11 428.27,229.07 429.23,229.03 430.20,228.99 431.16,228.95 432.13,228.91 433.09,228.88 434.06,228.84 435.02,228.81 435.99,228.78 436.95,228.75 437.92,228.72 438.88,228.69 439.85,228.67 440.81,228.64 441.78,228.61 442.74,228.59 443.71,228.57 444.67,228.54 445.64,228.52 446.60,228.50 447.57,228.48 448.53,228.46 449.50,228.44 450.46,228.42 451.43,228.40 452.39,228.39 453.36,228.37 454.32,228.35 455.29,228.34 456.25,228.32 457.22,228.31 458.18,228.29 459.15,228.28 460.11,228.26 461.08,228.25 462.04,228.24 463.01,228.23 463.97,228.21 464.94,228.20 465.90,228.19 466.87,228.18 467.83,228.17 468.80,228.16 469.76,228.15 470.73,228.14 471.69,228.13 472.66,228.12 473.62,228.11 474.59,228.10 475.55,228.10 476.52,228.09 477.48,228.08 478.45,228.07 479.41,228.07 480.38,228.06 481.34,228.05 482.31,228.04 483.27,228.04 484.24,228.03 485.20,228.03 486.17,228.02 487.13,228.01 488.10,228.01 489.06,228.00 490.03,228.00 490.99,227.99 491.96,227.99 492.92,227.98 493.89,227.98 494.85,227.97 495.82,227.97 496.78,227.96 497.75,227.96 498.71,227.96 499.68,227.95 500.64,227.95 501.61,227.94 502.57,227.94 503.54,227.94 504.50,227.93 505.47,227.93 506.43,227.93 507.40,227.92 508.36,227.92 509.33,227.92 510.29,227.91 511.26,227.91 512.22,227.91 513.19,227.90 514.15,227.90 515.12,227.90 516.08,227.90 517.05,227.89 518.01,227.89 518.98,227.89 519.94,227.89 520.91,227.89 521.88,227.88 522.84,227.88 523.80,227.88 524.77,227.88 525.73,227.88 526.70,227.87 527.66,227.87 528.63,227.87 529.59,227.87 530.56,227.87 531.52,227.86 532.49,227.86 533.45,227.86 534.42,227.86 535.38,227.86 536.35,227.86 537.31,227.86 538.28,227.85 539.24,227.85 540.21,227.85 541.17,227.85 542.14,227.85 543.10,227.85 544.07,227.85 545.03,227.85 546.00,227.84 546.96,227.84 547.93,227.84 548.89,227.84 549.86,227.84 550.82,227.84 551.79,227.84 552.75,227.84 553.72,227.84 554.68,227.83 555.65,227.83 556.62,227.83 557.58,227.83 558.54,227.83 559.51,227.83 560.47,227.83 561.44,227.83 562.40,227.83 563.37,227.83 564.33,227.83 565.30,227.83" fill="none" stroke="#008000" stroke-width="1.05" stroke-linejoin="round"/>
<polyline points="333.70,239.82 334.66,239.31 335.63,238.82 336.59,238.35 337.56,237.90 338.52,237.47 339.49,237.06 340.45,236.67 341.42,236.30 342.38,235.94 343.35,235.60 344.31,235.27 345.28,234.96 346.25,234.66 347.21,234.37 348.18,234.10 349.14,233.83 350.10,233.58 351.07,233.34 352.03,233.11 353.00,232.89 353.96,232.68 354.93,232.47 355.89,232.28 356.86,232.09 357.82,231.92 358.79,231.75 359.75,231.58 360.72,231.43 361.69,231.28 362.65,231.13 363.62,230.99 364.58,230.86 365.54,230.74 366.51,230.62 367.47,230.50 368.44,230.39 369.40,230.28 370.37,230.18 371.33,230.08 372.30,229.99 373.26,229.90 374.23,229.81 375.19,229.73 376.16,229.65 377.12,229.57 378.09,229.50 379.05,229.43 380.02,229.36 380.98,229.30 381.95,229.24 382.91,229.18 383.88,229.12 384.84,229.07 385.81,229.02 386.77,228.97 387.74,228.92 388.70,228.87 389.67,228.83 390.63,228.79 391.60,228.75 392.56,228.71 393.53,228.67 394.50,228.63 395.46,228.60 396.42,228.57 397.39,228.54 398.35,228.51 399.32,228.48 400.28,228.45 401.25,228.42 402.21,228.40 403.18,228.37 404.14,228.35 405.11,228.33 406.07,228.31 407.04,228.28 408.00,228.27 408.97,228.25 409.93,228.23 410.90,228.21 411.87,228.19 412.83,228.18 413.79,228.16 414.76,228.15 415.72,228.13 416.69,228.12 417.65,228.11 418.62,228.09 419.58,228.08 420.55,228.07 421.51,228.06 422.48,228.05 423.44,228.04 424.41,228.03 425.38,228.02 426.34,228.01 427.30,228.00 428.27,227.99 429.23,227.99 430.20,227.98 431.16,227.97 432.13,227.96 433.09,227.96 434.06,227.95 435.02,227.94 435.99,227.94 436.95,227.93 437.92,227.93 438.88,227.92 439.85,227.92 440.81,227.91 441.78,227.91 442.74,227.90 443.71,227.90 444.67,227.90 445.64,227.89 446.60,227.89 447.57,227.88 448.53,227.88 449.50,227.88 450.46,227.87 451.43,227.87 452.39,227.87 453.36,227.87 454.32,227.86 455.29,227.86 456.25,227.86 457.22,227.86 458.18,227.85 459.15,227.85 460.11,227.85 461.08,227.85 462.04,227.85 463.01,227.84 463.97,227.84 464.94,227.84 465.90,227.84 466.87,227.84 467.83,227.84 468.80,227.83 469.76,227.83 470.73,227.83 471.69,227.83 472.66,227.83 473.62,227.83 474.59,227.83 475.55,227.83 476.52,227.82 477.48,227.82 478.45,227.82 479.41,227.82 480.38,227.82 481.34,227.82 482.31,227.82 483.27,227.82 484.24,227.82 485.20,227.82 486.17,227.82 487.13,227.82 488.10,227.81 489.06,227.81 490.03,227.81 490.99,227.81 491.96,227.81 492.92,227.81 493.89,227.81 494.85,227.81 495.82,227.81 496.78,227.81 497.75,227.81 498.71,227.81 499.68,227.81 500.64,227.81 501.61,227.81 502.57,227.81 503.54,227.81 504.50,227.81 505.47,227.81 506.43,227.81 507.40,227.81 508.36,227.81 509.33,227.81 510.29,227.81 511.26,227.81 512.22,227.81 513.19,227.80 514.15,227.80 515.12,227.80 516.08,227.80 517.05,227.80 518.01,227.80 518.98,227.80 519.94,227.80 520.91,227.80 521.88,227.80 522.84,227.80 523.80,227.80 524.77,227.80 525.73,227.80 526.70,227.80 527.66,227.80 528.63,227.80 529.59,227.80 530.56,227.80 531.52,227.80 532.49,227.80 533.45,227.80 534.42,227.80 535.38,227.80 536.35,227.80 537.31,227.80 538.28,227.80 539.24,227.80 540.21,227.80 541.17,227.80 542.14,227.80 543.10,227.80 544.07,227.80 545.03,227.80 546.00,227.80 546.96,227.80 547.93,227.80 548.89,227.80 549.86,227.80 550.82,227.80 551.79,227.80 552.75,227.80 553.72,227.80 554.68,227.80 555.65,227.80 556.62,227.80 557.58,227.80 558.54,227.80 559.51,227.80 560.47,227.80 561.44,227.80 562.40,227.80 563.37,227.80 564.33,227.80 565.30,227.80" fill="none" stroke="#ff0000" stroke-width="1.05" stroke-linejoin="round"/>
</g>
<text x="449.50" y="430.00" class="xl" text-anchor="middle">x</text>
<g transform="translate(304.50,316.75) rotate(-90)"><text class="ml"><tspan x="-17.75">m</tspan><tspan x="-8.55">r</tspan><tspan x="-3.25">l</tspan><tspan x="6.3" style="font-size:13.2px">x</tspan></text><text class="mp" transform="translate(3.15,-1.3) scale(0.72,1)">(</text><text class="mp" transform="translate(13.85,-1.3) scale(0.72,1)">)</text></g>
<rect x="454.30" y="354.90" width="104.90" height="43.70" fill="#fff" stroke="#333" stroke-width="1.0"/>
<line x1="461.30" y1="363.20" x2="495.80" y2="363.20" stroke="#0000ff" stroke-width="1.05"/>
<text x="502.00" y="366.50" class="lg">(θ=0.1, β=1)</text>
<line x1="461.30" y1="376.65" x2="495.80" y2="376.65" stroke="#008000" stroke-width="1.05"/>
<text x="502.00" y="379.95" class="lg">(θ=0.5, β=1)</text>
<line x1="461.30" y1="390.10" x2="495.80" y2="390.10" stroke="#ff0000" stroke-width="1.05"/>
<text x="502.00" y="393.40" class="lg">(θ=0.9, β=1)</text>
</g>
</svg>
</body></html>
